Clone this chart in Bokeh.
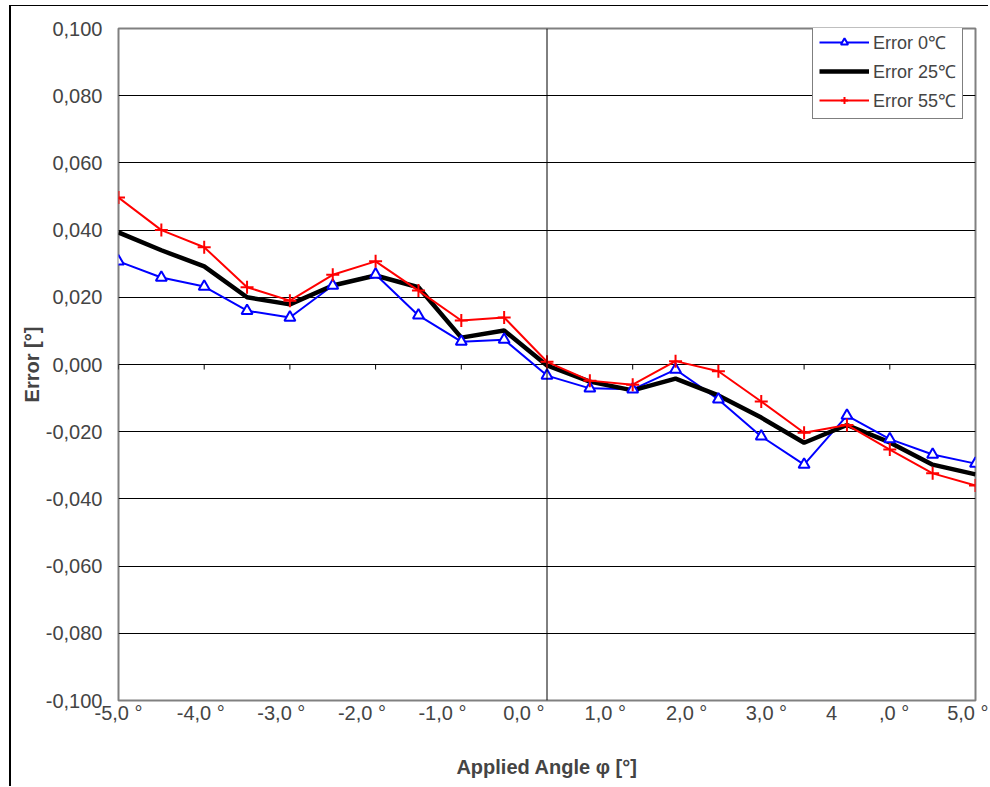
from bokeh.plotting import figure
from bokeh.models import Range1d, FixedTicker, CustomJSTickFormatter, Legend, LegendItem, Span
from bokeh.embed import file_html
from bokeh.resources import INLINE

# ---- data ----
angles = [-5.0, -4.5, -4.0, -3.5, -3.0, -2.5, -2.0, -1.5, -1.0, -0.5, 0.0,
          0.5, 1.0, 1.5, 2.0, 2.5, 3.0, 3.5, 4.0, 4.5, 5.0]
err_0c = [0.0307, 0.0259, 0.0232, 0.0160, 0.0140, 0.0235, 0.0268, 0.0146, 0.0068, 0.0074, -0.0033,
          -0.0071, -0.0074, -0.0015, -0.0104, -0.0214, -0.0298, -0.0152, -0.0222, -0.0268, -0.0295]
err_25c = [0.0393, 0.0340, 0.0292, 0.0200, 0.0179, 0.0235, 0.0265, 0.0230, 0.0080, 0.0101, -0.0003,
           -0.0051, -0.0077, -0.0042, -0.0092, -0.0158, -0.0233, -0.0180, -0.0232, -0.0298, -0.0327]
err_55c = [0.0497, 0.0400, 0.0349, 0.0230, 0.0190, 0.0267, 0.0307, 0.0220, 0.0131, 0.0140, 0.0008,
           -0.0048, -0.0060, 0.0010, -0.0020, -0.0110, -0.0203, -0.0180, -0.0253, -0.0324, -0.0360]
series_names = ["Error 0\u2103", "Error 25\u2103", "Error 55\u2103"]

y_ticks = [-0.10, -0.08, -0.06, -0.04, -0.02, 0.0, 0.02, 0.04, 0.06, 0.08, 0.10]
y_tick_labels = ["-0,100", "-0,080", "-0,060", "-0,040", "-0,020", "0,000",
                 "0,020", "0,040", "0,060", "0,080", "0,100"]
x_label_pos = [-5.00, -4.04, -3.10, -2.16, -1.22, -0.27, 0.68, 1.63, 2.56, 3.32, 4.05, 4.92]
x_tick_labels = ["-5,0 \u00b0", "-4,0 \u00b0", "-3,0 \u00b0", "-2,0 \u00b0", "-1,0 \u00b0", "0,0 \u00b0",
                 "1,0 \u00b0", "2,0 \u00b0", "3,0 \u00b0", "4", ",0 \u00b0", "5,0 \u00b0"]
x_tick_marks = [-5, -4, -3, -2, -1, 0, 1, 2, 3, 4, 5]

FONT = "Liberation Sans"

p = figure(width=979, height=781, output_backend="svg", toolbar_location=None,
           x_range=Range1d(-5, 5), y_range=Range1d(-0.1, 0.1),
           min_border_left=107, min_border_right=15, min_border_top=22, min_border_bottom=87)
p.styles = {"margin-left": "9px", "margin-top": "5px",
            "border-left": "2px solid black", "border-top": "1px solid black"}

p.background_fill_color = "white"
p.border_fill_color = "white"
p.outline_line_color = "#808080"
p.outline_line_width = 2

# grid
p.xgrid.grid_line_color = None
p.ygrid.ticker = FixedTicker(ticks=y_ticks)
p.ygrid.grid_line_color = "#000000"
p.ygrid.grid_line_width = 1

# y axis
ya = p.yaxis[0]
ya.ticker = FixedTicker(ticks=y_ticks)
ya.formatter = CustomJSTickFormatter(args=dict(labels=y_tick_labels), code="return labels[index];")
ya.axis_line_color = None
ya.major_tick_line_color = None
ya.minor_tick_line_color = None
ya.major_tick_out = 0
ya.major_tick_in = 0
ya.minor_tick_out = 0
ya.major_label_text_font = FONT
ya.major_label_text_font_size = "20px"
ya.major_label_standoff = 16
ya.axis_label = "Error [\u00b0]"
ya.axis_label_text_font = FONT
ya.axis_label_text_font_style = "bold"
ya.axis_label_text_font_size = "20px"
ya.axis_label_standoff = 0

# x axis
xa = p.xaxis[0]
xa.ticker = FixedTicker(ticks=x_label_pos)
xa.formatter = CustomJSTickFormatter(args=dict(labels=x_tick_labels), code="return labels[index];")
xa.axis_line_color = None
xa.major_tick_line_color = None
xa.minor_tick_line_color = None
xa.major_tick_out = 0
xa.major_tick_in = 0
xa.minor_tick_out = 0
xa.major_label_text_font = FONT
xa.major_label_text_font_size = "20px"
xa.major_label_standoff = 1
xa.axis_label = "Applied Angle \u03c6 [\u00b0]"
xa.axis_label_text_font = FONT
xa.axis_label_text_font_style = "bold"
xa.axis_label_text_font_size = "20px"
xa.axis_label_standoff = 29

# value axis line at x=0
p.add_layout(Span(location=0, dimension="height", line_color="black", line_width=1))
# category tick marks on the y=0 axis
p.segment(x0=x_tick_marks, y0=[0] * len(x_tick_marks), x1=x_tick_marks,
          y1=[-0.0015] * len(x_tick_marks), line_color="black", line_width=1)

# series
l0 = p.line(angles, err_0c, line_color="#0000FF", line_width=2)
l25 = p.line(angles, err_25c, line_color="black", line_width=4.5)
l55 = p.line(angles, err_55c, line_color="#FF0000", line_width=2)
m0 = p.scatter(angles, err_0c, marker="triangle", size=11, line_color="#0000FF",
               fill_color="white", line_width=2)
m55 = p.scatter(angles, err_55c, marker="cross", size=13, line_color="#FF0000", line_width=2)

legend = Legend(items=[
    LegendItem(label=series_names[0], renderers=[l0, m0]),
    LegendItem(label=series_names[1], renderers=[l25]),
    LegendItem(label=series_names[2], renderers=[l55, m55]),
], location=(694, 581))
legend.margin = 0
legend.padding = 6
legend.spacing = 5
legend.label_height = 18
legend.glyph_height = 18
legend.glyph_width = 50
legend.label_standoff = 4
legend.label_text_font = FONT
legend.label_text_font_size = "18px"
legend.border_line_color = "black"
legend.border_line_width = 1
legend.background_fill_color = "white"
legend.background_fill_alpha = 1
p.add_layout(legend)

open("out.html", "w").write(file_html(p, INLINE))
